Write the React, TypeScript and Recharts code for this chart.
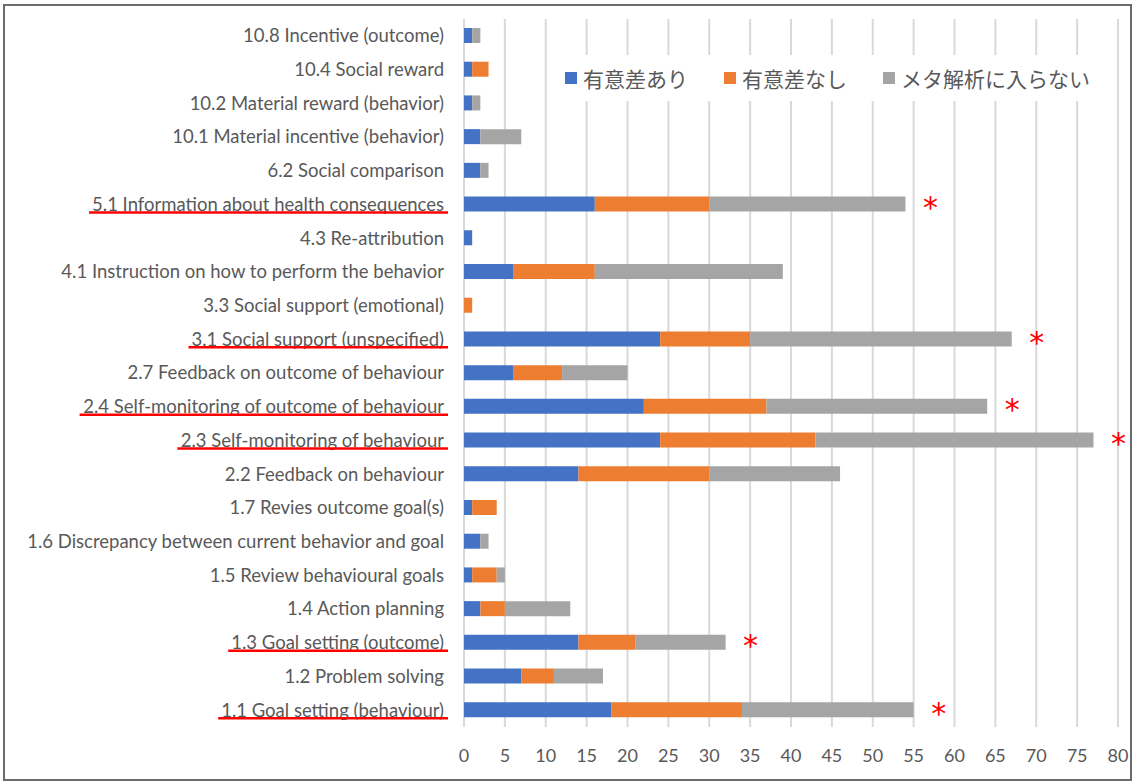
import React from "react";
import { BarChart, Bar, XAxis, YAxis, CartesianGrid, LabelList } from "recharts";

const categories = [
  "10.8 Incentive (outcome)",
  "10.4 Social reward",
  "10.2 Material reward (behavior)",
  "10.1 Material incentive (behavior)",
  "6.2 Social comparison",
  "5.1 Information about health consequences",
  "4.3 Re-attribution",
  "4.1 Instruction on how to perform the behavior",
  "3.3 Social support (emotional)",
  "3.1 Social support (unspecified)",
  "2.7 Feedback on outcome of behaviour",
  "2.4 Self-monitoring of outcome of behaviour",
  "2.3 Self-monitoring of behaviour",
  "2.2 Feedback on behaviour",
  "1.7 Revies outcome goal(s)",
  "1.6 Discrepancy between current behavior and goal",
  "1.5 Review behavioural goals",
  "1.4 Action planning",
  "1.3 Goal setting (outcome)",
  "1.2 Problem solving",
  "1.1 Goal setting (behaviour)",
];

// 有意差あり / 有意差なし / メタ解析に入らない
const significant = [1, 1, 1, 2, 2, 16, 1, 6, 0, 24, 6, 22, 24, 14, 1, 2, 1, 2, 14, 7, 18];
const notSignificant = [0, 2, 0, 0, 0, 14, 0, 10, 1, 11, 6, 15, 19, 16, 3, 0, 3, 3, 7, 4, 16];
const notInMeta = [1, 0, 1, 5, 1, 24, 0, 23, 0, 32, 8, 27, 34, 16, 0, 1, 1, 8, 11, 6, 21];

const seriesNames = ["有意差あり", "有意差なし", "メタ解析に入らない"];
const xTicks = [0, 5, 10, 15, 20, 25, 30, 35, 40, 45, 50, 55, 60, 65, 70, 75, 80];

// categories marked in red (underline + asterisk)
const highlighted = [
  "5.1 Information about health consequences",
  "3.1 Social support (unspecified)",
  "2.4 Self-monitoring of outcome of behaviour",
  "2.3 Self-monitoring of behaviour",
  "1.3 Goal setting (outcome)",
  "1.1 Goal setting (behaviour)",
];

const COLORS = ["#4472C4", "#ED7D31", "#A5A5A5"];
const TEXT = "#595959";
const LABEL_FONT = "Lato";
const LABEL_SIZE = 18.5;

const data = categories.map((name, i) => ({
  name,
  sig: significant[i],
  nonsig: notSignificant[i],
  excluded: notInMeta[i],
}));

let ctx: CanvasRenderingContext2D | null = null;
const textWidth = (s: string) => {
  if (!ctx) ctx = document.createElement("canvas").getContext("2d");
  if (!ctx) return s.length * 8.4;
  ctx.font = `${LABEL_SIZE}px ${LABEL_FONT}`;
  return ctx.measureText(s).width;
};

const CategoryTick = (props: any) => {
  const { x, y, payload } = props;
  const label = payload.value as string;
  const right = x - 12;
  const marked = highlighted.includes(label);
  const w = marked ? textWidth(label) : 0;
  return (
    <g>
      <text
        x={right}
        y={y}
        dy="0.35em"
        textAnchor="end"
        fill={TEXT}
        fontSize={LABEL_SIZE}
        fontFamily={LABEL_FONT}
      >
        {label}
      </text>
      {marked && (
        <line x1={right - w - 3} x2={right + 4} y1={y + 8} y2={y + 8} stroke="#ff0000" strokeWidth={2.5} />
      )}
    </g>
  );
};

const Asterisk = (props: any) => {
  const { x, y, width, height, value } = props;
  if (!highlighted.includes(value)) return null;
  return (
    <text
      x={x + width + 25}
      y={y + height / 2 + 14}
      textAnchor="middle"
      fill="#ff0000"
      fontSize={30}
      fontFamily="DejaVu Sans"
    >
      *
    </text>
  );
};

const LegendBox = () => (
  <div
    style={{
      position: "absolute",
      left: 545,
      top: 49,
      width: 560,
      height: 46,
      display: "flex",
      alignItems: "center",
      paddingLeft: 15,
      boxSizing: "border-box",
      background: "#fff",
      fontFamily: "'Noto Sans CJK JP', sans-serif",
      fontSize: 21,
      color: TEXT,
      whiteSpace: "nowrap",
    }}
  >
    {seriesNames.map((n, i) => (
      <div key={n} style={{ display: "flex", alignItems: "center", marginRight: 36 }}>
        <span style={{ width: 12, height: 12, background: COLORS[i], marginRight: 6, display: "inline-block" }} />
        <span>{n}</span>
      </div>
    ))}
  </div>
);

export default function App() {
  return (
    <div
      style={{
        position: "absolute",
        left: 3,
        top: 4,
        width: 1129,
        height: 777,
        border: "2px solid #6b6b6b",
        boxSizing: "border-box",
        background: "#fff",
      }}
    >
      <BarChart
        width={1125}
        height={773}
        data={data}
        layout="vertical"
        margin={{ top: 13, right: 12, bottom: 7, left: 0 }}
        barSize={15}
      >
        <CartesianGrid horizontal={false} stroke="#d9d9d9" strokeWidth={2} />
        <XAxis
          type="number"
          domain={[0, 80]}
          ticks={xTicks}
          tickLine={false}
          axisLine={false}
          tickMargin={16}
          height={45}
          tick={{ fill: TEXT, fontSize: 18, fontFamily: LABEL_FONT }}
        />
        <YAxis
          type="category"
          dataKey="name"
          width={459}
          tickLine={false}
          axisLine={false}
          interval={0}
          tick={<CategoryTick />}
        />
        <Bar dataKey="sig" name={seriesNames[0]} stackId="a" fill={COLORS[0]} isAnimationActive={false} />
        <Bar dataKey="nonsig" name={seriesNames[1]} stackId="a" fill={COLORS[1]} isAnimationActive={false} />
        <Bar dataKey="excluded" name={seriesNames[2]} stackId="a" fill={COLORS[2]} isAnimationActive={false}>
          <LabelList dataKey="name" content={<Asterisk />} />
        </Bar>
      </BarChart>
      <LegendBox />
    </div>
  );
}
